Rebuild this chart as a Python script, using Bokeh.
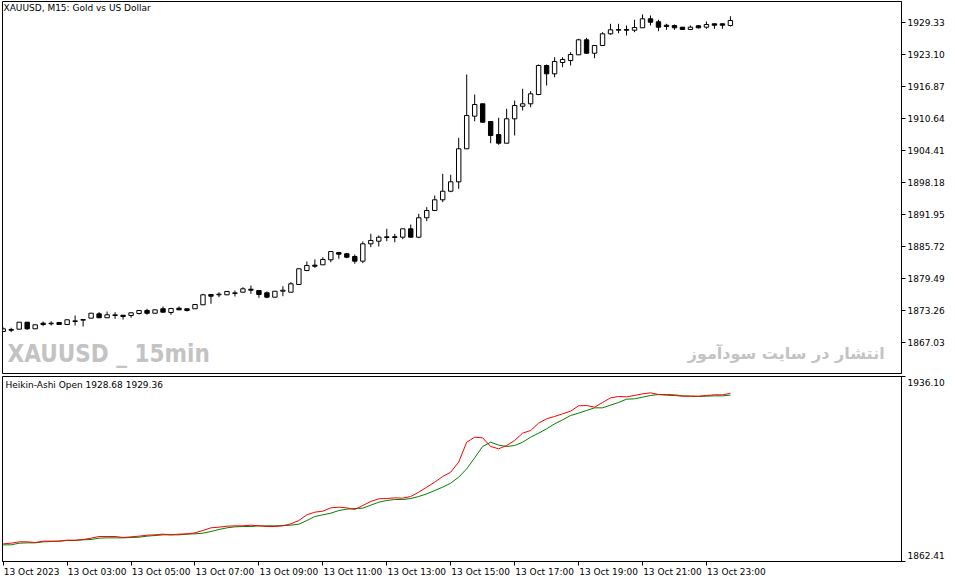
from bokeh.plotting import figure
from bokeh.layouts import column
from bokeh.models import Range1d, FixedTicker, PrintfTickFormatter, Label
from bokeh.embed import file_html
from bokeh.resources import INLINE

# ---------------- data (XAUUSD M15, 13 Oct 2023, 01:00 .. 23:45) ----------------
bars = list(range(92))
opens = [1869.17, 1869.56, 1869.62, 1870.98, 1869.69, 1870.78, 1870.67, 1870.92, 1870.53, 1871.11,
         1871.37, 1871.76, 1872.61, 1871.84, 1872.28, 1872.34, 1872.28, 1872.67, 1873.26, 1872.73,
         1873.59, 1872.87, 1873.70, 1873.59, 1873.59, 1874.37, 1876.37, 1876.31, 1876.31, 1876.57,
         1876.82, 1877.40, 1877.15, 1876.70, 1875.85, 1877.01, 1876.82, 1878.32, 1881.04, 1882.08,
         1882.15, 1883.13, 1884.55, 1884.30, 1883.77, 1882.86, 1886.24, 1886.75, 1887.47, 1887.61,
         1887.53, 1889.16, 1887.53, 1891.31, 1892.73, 1894.81, 1896.48, 1898.31, 1904.74, 1911.09,
         1913.50, 1910.05, 1907.52, 1905.83, 1910.58, 1913.03, 1913.50, 1915.31, 1920.96, 1919.34,
         1921.54, 1921.93, 1923.04, 1925.96, 1923.35, 1924.85, 1927.13, 1927.83, 1927.97, 1927.83,
         1928.30, 1930.05, 1929.47, 1928.80, 1928.75, 1928.42, 1927.97, 1928.69, 1928.42, 1929.08,
         1929.08, 1928.75]
highs = [1869.95, 1869.89, 1871.00, 1871.00, 1870.50, 1871.11, 1871.17, 1870.95, 1871.47, 1872.28,
         1871.52, 1872.75, 1872.93, 1873.06, 1872.93, 1872.36, 1872.83, 1873.28, 1873.59, 1873.41,
         1874.04, 1873.67, 1874.04, 1873.61, 1874.44, 1876.51, 1876.39, 1876.82, 1876.98, 1877.15,
         1877.79, 1878.12, 1877.17, 1876.96, 1877.03, 1877.99, 1878.77, 1881.40, 1882.80, 1883.19,
         1883.63, 1884.76, 1884.57, 1884.49, 1884.16, 1886.69, 1888.19, 1887.86, 1889.16, 1888.19,
         1889.18, 1890.00, 1892.08, 1893.37, 1895.65, 1899.87, 1899.68, 1906.88, 1919.21, 1915.31,
         1913.52, 1910.07, 1910.78, 1912.53, 1914.14, 1916.42, 1915.95, 1921.15, 1921.15, 1922.57,
         1922.57, 1923.55, 1926.16, 1926.35, 1924.87, 1927.44, 1929.08, 1929.08, 1928.75, 1929.86,
         1930.89, 1930.69, 1929.86, 1929.08, 1928.94, 1928.44, 1928.75, 1928.84, 1929.52, 1929.10,
         1929.10, 1930.56]
lows = [1869.07, 1869.03, 1869.60, 1869.50, 1869.67, 1870.20, 1870.34, 1870.47, 1870.50, 1870.34,
        1870.14, 1871.74, 1871.82, 1871.82, 1871.64, 1871.50, 1871.84, 1872.48, 1872.42, 1872.71,
        1872.91, 1872.42, 1873.37, 1873.06, 1873.57, 1874.35, 1874.56, 1875.85, 1876.29, 1875.98,
        1876.80, 1876.51, 1875.73, 1875.65, 1875.83, 1876.04, 1876.80, 1878.30, 1880.91, 1881.57,
        1882.13, 1882.66, 1883.32, 1883.44, 1882.35, 1882.47, 1885.58, 1885.72, 1886.75, 1886.55,
        1887.14, 1887.51, 1887.33, 1890.64, 1892.71, 1894.34, 1896.29, 1896.95, 1904.70, 1910.11,
        1909.90, 1905.83, 1905.52, 1905.81, 1907.33, 1912.20, 1912.84, 1915.18, 1917.06, 1918.68,
        1920.63, 1920.96, 1923.02, 1923.24, 1922.38, 1924.83, 1926.94, 1927.25, 1926.80, 1927.44,
        1928.28, 1928.75, 1927.64, 1927.91, 1927.91, 1927.95, 1927.95, 1928.16, 1928.10, 1928.10,
        1928.10, 1928.55]
closes = [1869.69, 1869.42, 1870.98, 1869.69, 1870.47, 1870.53, 1870.78, 1870.53, 1871.45, 1871.25,
          1871.50, 1872.73, 1871.84, 1872.42, 1872.42, 1872.09, 1872.81, 1873.26, 1872.73, 1873.39,
          1872.93, 1873.65, 1873.39, 1873.26, 1874.42, 1876.31, 1876.04, 1876.43, 1876.96, 1876.70,
          1877.48, 1877.21, 1876.37, 1875.85, 1877.01, 1877.21, 1878.45, 1881.38, 1882.02, 1881.88,
          1883.19, 1884.74, 1884.22, 1883.63, 1882.86, 1886.24, 1886.89, 1887.53, 1887.61, 1887.47,
          1889.16, 1887.53, 1891.31, 1892.73, 1894.81, 1896.48, 1898.31, 1904.74, 1911.22, 1913.36,
          1909.92, 1907.33, 1905.83, 1910.58, 1913.17, 1913.50, 1915.45, 1920.96, 1919.34, 1921.74,
          1922.13, 1923.10, 1925.96, 1923.35, 1924.85, 1927.13, 1927.91, 1927.97, 1927.83, 1928.36,
          1930.05, 1929.39, 1928.42, 1928.55, 1928.30, 1927.97, 1928.42, 1928.30, 1928.94, 1928.80,
          1928.80, 1929.72]

# Heikin-Ashi Open indicator lines (red = fast, green = slow)
ha_red = [1869.44, 1869.71, 1870.24, 1870.24, 1869.98, 1870.51, 1870.51, 1870.51, 1870.90, 1870.90,
          1871.17, 1871.70, 1872.37, 1872.37, 1872.37, 1871.97, 1872.23, 1872.50, 1872.90, 1873.03,
          1873.30, 1873.03, 1873.30, 1873.43, 1873.83, 1874.76, 1875.82, 1876.08, 1876.48, 1876.61,
          1876.61, 1876.88, 1876.61, 1876.35, 1876.35, 1876.61, 1877.41, 1878.74, 1881.00, 1882.06,
          1882.46, 1883.78, 1884.05, 1883.78, 1883.12, 1884.71, 1886.31, 1887.37, 1887.50, 1887.77,
          1887.64, 1888.30, 1890.03, 1892.02, 1894.01, 1896.27, 1897.99, 1901.98, 1909.94, 1911.93,
          1911.67, 1908.22, 1907.29, 1908.61, 1910.61, 1913.53, 1914.59, 1917.51, 1919.24, 1920.17,
          1921.23, 1922.29, 1924.42, 1924.55, 1923.88, 1925.74, 1927.60, 1928.13, 1928.00, 1928.53,
          1929.20, 1929.59, 1928.93, 1928.66, 1928.53, 1928.27, 1928.27, 1928.27, 1928.53, 1928.80,
          1928.80, 1929.36]
ha_green = [1869.05, 1869.05, 1869.71, 1869.84, 1869.84, 1870.24, 1870.37, 1870.51, 1870.77, 1870.77,
            1871.04, 1871.17, 1871.70, 1871.83, 1871.83, 1871.83, 1871.97, 1872.10, 1872.50, 1872.76,
            1873.03, 1873.03, 1873.03, 1873.30, 1873.43, 1873.69, 1874.36, 1875.15, 1875.82, 1876.22,
            1876.35, 1876.35, 1876.61, 1876.61, 1876.61, 1876.75, 1876.88, 1877.28, 1878.74, 1880.33,
            1881.00, 1881.66, 1882.72, 1883.25, 1883.52, 1883.65, 1884.85, 1886.04, 1886.71, 1887.10,
            1887.10, 1887.50, 1888.30, 1889.36, 1890.69, 1892.02, 1893.61, 1896.00, 1899.32, 1903.70,
            1908.22, 1909.94, 1908.75, 1908.22, 1908.61, 1909.94, 1911.93, 1913.53, 1915.25, 1917.25,
            1918.84, 1920.56, 1921.49, 1922.56, 1923.62, 1923.62, 1924.68, 1925.74, 1927.07, 1927.20,
            1927.87, 1928.53, 1928.93, 1928.93, 1928.80, 1928.40, 1928.27, 1928.13, 1928.27, 1928.40,
            1928.40, 1928.68]

price_ticks = [1867.03, 1873.26, 1879.49, 1885.72, 1891.95, 1898.18, 1904.41, 1910.64,
               1916.87, 1923.10, 1929.33]
sub_range = [1862.41, 1936.10]
time_tick_bars = [0, 8, 16, 24, 32, 40, 48, 56, 64, 72, 80, 88]
time_labels = ["13 Oct 2023", "13 Oct 03:00", "13 Oct 05:00", "13 Oct 07:00", "13 Oct 09:00",
               "13 Oct 11:00", "13 Oct 13:00", "13 Oct 15:00", "13 Oct 17:00", "13 Oct 19:00",
               "13 Oct 21:00", "13 Oct 23:00"]

# ---------------- styling ----------------
FONT = "DejaVu Sans"
W = 947
x_range = Range1d(-0.0875, 112.41)

def base_style(p):
    p.grid.visible = False
    p.outline_line_color = "black"
    p.outline_line_width = 1
    p.outline_line_alpha = 1.0
    p.background_fill_color = "white"
    p.border_fill_color = "white"

# ---------------- top panel: candles ----------------
p1 = figure(width=W, height=375, x_range=x_range, y_range=Range1d(1860.99, 1933.42),
            output_backend="svg", toolbar_location=None, x_axis_location=None,
            y_axis_location="right", min_border_left=2, min_border_right=45,
            min_border_top=1, min_border_bottom=2)
base_style(p1)

bull = [c >= o for o, c in zip(opens, closes)]
tops = [max(o, c) for o, c in zip(opens, closes)]
bots = [min(o, c) for o, c in zip(opens, closes)]
fills = ["white" if b else "black" for b in bull]

p1.segment(x0=bars, y0=lows, x1=bars, y1=highs, line_color="black", line_width=1)
p1.vbar(x=bars, width=0.55, top=tops, bottom=bots, fill_color=fills,
        line_color="black", line_width=1)

ya = p1.yaxis[0]
ya.ticker = FixedTicker(ticks=price_ticks)
ya.formatter = PrintfTickFormatter(format="%.2f")
ya.major_tick_out = 4
ya.major_tick_in = 0
ya.minor_tick_line_color = None
ya.major_label_standoff = 2
ya.major_label_text_font = FONT
ya.major_label_text_font_size = "9px"
ya.major_label_text_color = "black"
ya.axis_line_color = "black"
ya.major_tick_line_color = "black"

p1.add_layout(Label(x=0.04, y=1932.06, text="XAUUSD, M15:  Gold vs US Dollar",
                    text_font=FONT, text_font_size="9px", text_color="black",
                    text_baseline="middle", text_align="left"))
p1.add_layout(Label(x=0.54, y=1864.78, text="XAUUSD _ 15min",
                    text_font="DejaVu Sans Condensed", text_font_size="24px",
                    text_font_style="bold", text_color="#c3c3c3",
                    text_baseline="middle", text_align="left"))
p1.add_layout(Label(x=110.3, y=1864.88, text="انتشار در سایت سودآموز",
                    text_font=FONT, text_font_size="16px", text_font_style="bold",
                    text_color="#c3c3c3", text_baseline="middle", text_align="right"))

# ---------------- bottom panel: Heikin-Ashi Open lines ----------------
p2 = figure(width=W, height=204, x_range=x_range, y_range=Range1d(sub_range[0], sub_range[1]),
            output_backend="svg", toolbar_location=None, x_axis_location="below",
            y_axis_location="right", min_border_left=2, min_border_right=45,
            min_border_top=1, min_border_bottom=0)
base_style(p2)

p2.line(bars, ha_green, line_color="#008000", line_width=1)
p2.line(bars, ha_red, line_color="#ff0000", line_width=1)

ya2 = p2.yaxis[0]
lab_lo = sub_range[0] + 2.39
lab_hi = sub_range[1] - 2.27
ya2.ticker = FixedTicker(ticks=[lab_lo, lab_hi], minor_ticks=sub_range)
ya2.major_label_overrides = {lab_lo: "%.2f" % sub_range[0], lab_hi: "%.2f" % sub_range[1]}
ya2.major_tick_line_color = None
ya2.major_tick_out = 4
ya2.major_tick_in = 0
ya2.minor_tick_line_color = "black"
ya2.minor_tick_out = 4
ya2.minor_tick_in = 0
ya2.major_label_standoff = 2
ya2.major_label_text_font = FONT
ya2.major_label_text_font_size = "9px"
ya2.major_label_text_color = "black"
ya2.axis_line_color = "black"

xa = p2.xaxis[0]
label_pos = [t + (3.55 if k == 0 else 3.75) for k, t in enumerate(time_tick_bars)]
xa.ticker = FixedTicker(ticks=label_pos, minor_ticks=time_tick_bars)
xa.major_label_overrides = {lp: lab for lp, lab in zip(label_pos, time_labels)}
xa.major_tick_line_color = None
xa.major_tick_out = 4
xa.major_tick_in = 0
xa.minor_tick_line_color = "black"
xa.minor_tick_out = 4
xa.minor_tick_in = 0
xa.major_label_standoff = 1
xa.major_label_text_font = FONT
xa.major_label_text_font_size = "9px"
xa.major_label_text_color = "black"
xa.axis_line_color = "black"

p2.add_layout(Label(x=0.29, y=1932.91,
                    text="Heikin-Ashi Open %.2f %.2f" % (ha_green[-1], ha_red[-1]),
                    text_font=FONT, text_font_size="9px", text_color="black",
                    text_baseline="middle", text_align="left"))

layout = column(p1, p2, spacing=0)
open("out.html", "w").write(file_html(layout, INLINE))
